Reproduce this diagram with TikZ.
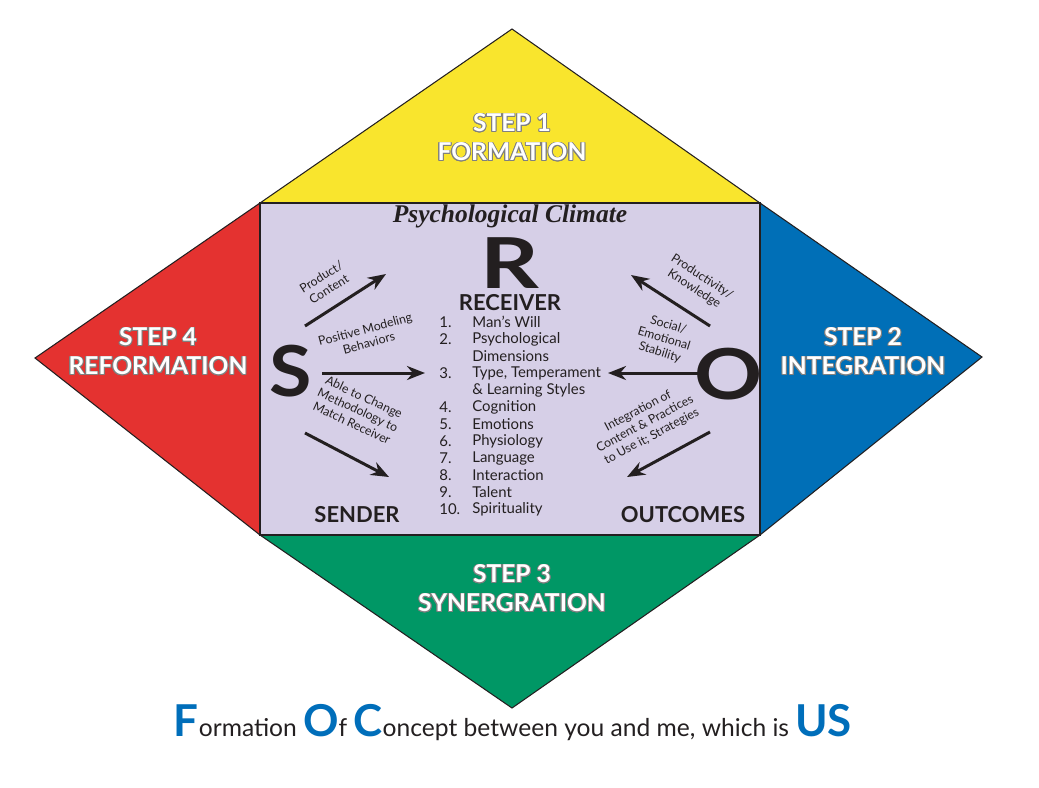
\documentclass[tikz,border=0pt]{standalone}
\usepackage{fontspec}
\setmainfont{Lato}
\newfontfamily\climatefont{Liberation Serif}
\usepackage[copies]{contour}
\usetikzlibrary{arrows.meta, positioning}

\definecolor{stepyellow}{RGB}{249,229,45}
\definecolor{stepblue}{RGB}{0,111,183}
\definecolor{stepred}{RGB}{228,50,48}
\definecolor{stepgreen}{RGB}{0,151,101}
\definecolor{climate}{RGB}{214,207,231}
\definecolor{titleblue}{RGB}{0,110,186}
\definecolor{darktext}{RGB}{35,31,32}
\contourlength{0.5pt}
\newcommand{\bigblue}[1]{{\fontsize{25}{25}\selectfont\bfseries\color{titleblue}#1}}

\begin{document}
\begin{tikzpicture}[x=0.2mm, y=-0.2mm]

    % Styles
    \tikzset{
        panel/.style={draw=darktext, line width=0.6pt, line join=miter},
        steptext/.style={font=\fontsize{14}{16.5}\selectfont\bfseries, text=white, align=center},
        bigletter/.style={font=\fontsize{40}{40}\selectfont\bfseries, text=darktext, inner sep=0pt},
        heading/.style={font=\fontsize{12.5}{14}\selectfont\bfseries, text=darktext},
        listtext/.style={font=\fontsize{8.5}{10}\selectfont, text=darktext, anchor=west, inner sep=0pt},
        smalllabel/.style={font=\fontsize{7}{8.2}\selectfont, text=darktext, align=center, inner sep=0pt},
        arrow/.style={-{Stealth[length=3.6mm, width=2.8mm]}, line width=1.7pt, darktext}
    }

    \useasboundingbox (0,0) rectangle (1039,787);

    % Diamond corners
    \coordinate (top) at (512,29);
    \coordinate (right) at (982,357);
    \coordinate (bottom) at (512,708);
    \coordinate (left) at (35,358);
    \coordinate (tl) at (260,203);
    \coordinate (tr) at (760,203);
    \coordinate (br) at (760,535);
    \coordinate (bl) at (260,535);

    % Steps
    \fill[stepyellow] (tl) -- (top) -- (tr) -- cycle;
    \fill[stepblue] (tr) -- (right) -- (br) -- cycle;
    \fill[stepgreen] (bl) -- (bottom) -- (br) -- cycle;
    \fill[stepred] (tl) -- (left) -- (bl) -- cycle;
    \draw[panel] (left) -- (tl) -- (top) -- (tr) -- (right) -- (br) -- (bottom) -- (bl) -- cycle;
    \filldraw[panel, fill=climate] (tl) rectangle (br);

    \node[steptext] (step1) at (512,138) {\contour{gray}{STEP 1}\\\contour{gray}{FORMATION}};
    \node[steptext] (step2) at (863,352) {\contour{gray}{STEP 2}\\\contour{gray}{INTEGRATION}};
    \node[steptext] (step3) at (512,589) {\contour{gray}{STEP 3}\\\contour{gray}{SYNERGRATION}};
    \node[steptext] (step4) at (158,352) {\contour{gray}{STEP 4}\\\contour{gray}{REFORMATION}};

    % Climate box
    \node[font=\climatefont\fontsize{14.5}{16}\selectfont\bfseries\itshape, text=darktext] (climate) at (510,216) {Psychological Climate};
    \node[bigletter, xscale=1.3] (R) at (510,263) {R};
    \node[bigletter, xscale=1.1] (S) at (291,371) {S};
    \node[bigletter, xscale=1.2] (O) at (729,374) {O};
    \node[heading] (receiver) at (510,303) {RECEIVER};
    \node[heading] (sender) at (357,515) {SENDER};
    \node[heading] (outcomes) at (683,515) {OUTCOMES};

    % Receiver list
    \foreach \n/\t [count=\i from 0] in {1./Man's Will, 2./Psychological, /Dimensions,
        3./{Type, Temperament}, /\& Learning Styles, 4./Cognition, 5./Emotions,
        6./Physiology, 7./Language, 8./Interaction, 9./Talent, 10./Spirituality} {
        \node[listtext] (num\i) at (439,322+17*\i) {\n};
        \node[listtext] (item\i) at (472,322+17*\i) {\t};
    }

    % Arrows
    \coordinate (pc1) at (305,326);
    \coordinate (pc2) at (386,274);
    \coordinate (pm1) at (322,373);
    \coordinate (pm2) at (425,373);
    \coordinate (pa1) at (305,433);
    \coordinate (pa2) at (389,477);
    \coordinate (kn1) at (710,326);
    \coordinate (kn2) at (631,275);
    \coordinate (so1) at (703,373);
    \coordinate (so2) at (608,373);
    \coordinate (ig1) at (710,432);
    \coordinate (ig2) at (627,477);
    \draw[arrow] (pc1) -- (pc2);
    \draw[arrow] (pm1) -- (pm2);
    \draw[arrow] (pa1) -- (pa2);
    \draw[arrow] (kn1) -- (kn2);
    \draw[arrow] (so1) -- (so2);
    \draw[arrow] (ig1) -- (ig2);

    \node[smalllabel, rotate=32] (product) at (325,283) {Product/\\Content};
    \node[smalllabel, rotate=15] (modeling) at (367,336) {Positive Modeling\\Behaviors};
    \node[smalllabel, rotate=-25] (change) at (358,410) {Able to Change\\Methodology to\\Match Receiver};
    \node[smalllabel, rotate=-33] (knowledge) at (698,283) {Productivity/\\Knowledge};
    \node[smalllabel, rotate=-17] (social) at (664,339) {Social/\\Emotional\\Stability};
    \node[smalllabel, rotate=28] (strategies) at (645,424) {Integration of\\Content \& Practices\\to Use it; Strategies};

    % Title
    \node[anchor=base, text=darktext, font=\fontsize{14}{16}\selectfont] (title) at (513,736)
        {\bigblue{F}ormation \bigblue{O}f \bigblue{C}oncept between you and me, which is \bigblue{US}};

\end{tikzpicture}
\end{document}
